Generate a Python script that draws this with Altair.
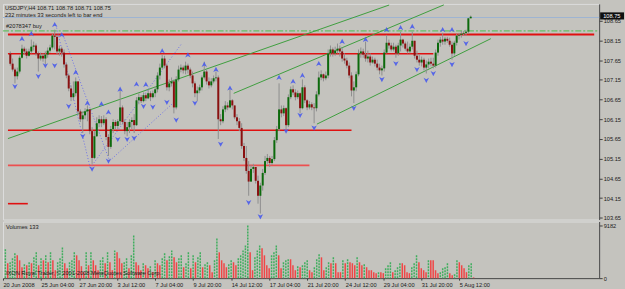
import altair as alt
import pandas as pd

# ---------------- data ----------------
FIRST_OPEN = 107.82
CLOSE = [107.56, 107.41, 107.24, 107.36, 107.71, 107.94, 107.87, 107.76, 107.87, 107.99,
         108.02, 107.82, 107.69, 107.76, 107.69, 107.79, 107.89, 107.97, 108.27, 108.24,
         107.87, 107.94, 107.84, 107.54, 107.26, 106.93, 106.71, 106.81, 107.11, 106.35,
         106.15, 106.25, 106.35, 106.40, 105.85, 105.17, 105.72, 106.05, 106.15, 106.05,
         106.15, 105.70, 105.45, 105.90, 106.08, 105.98, 106.10, 106.45, 106.08, 105.85,
         105.95, 106.08, 106.13, 106.00, 106.63, 106.71, 106.61, 106.76, 106.68, 106.81,
         106.71, 106.81, 106.91, 107.26, 107.46, 107.69, 107.51, 106.96, 107.06, 107.11,
         106.45, 107.16, 107.41, 107.46, 107.39, 107.51, 107.41, 107.26, 107.06, 106.81,
         106.88, 106.96, 107.21, 107.36, 107.11, 107.01, 107.11, 107.19, 107.21, 106.15,
         106.10, 106.40, 106.50, 106.45, 106.63, 106.50, 106.20, 106.10, 105.93, 105.47,
         105.17, 104.84, 104.57, 104.89, 104.94, 104.59, 104.21, 104.47, 104.79, 105.09,
         105.17, 105.04, 105.14, 105.62, 105.90, 106.40, 106.30, 106.43, 106.00, 106.71,
         106.91, 106.83, 106.71, 106.81, 106.43, 106.96, 106.63, 106.45, 106.53, 106.45,
         106.43, 106.78, 107.21, 107.29, 107.19, 107.26, 107.82, 107.92, 107.82, 107.89,
         107.94, 107.87, 107.69, 107.64, 107.51, 107.26, 106.88, 106.96, 107.29, 107.82,
         107.87, 107.79, 107.69, 107.74, 107.59, 107.66, 107.56, 107.46, 107.39, 107.44,
         107.84, 108.09, 108.02, 107.92, 107.99, 107.82, 108.02, 108.17, 108.07, 107.94,
         107.87, 107.99, 108.14, 107.76, 107.66, 107.59, 107.66, 107.46, 107.54, 107.61,
         107.56, 107.51, 107.84, 108.09, 108.17, 108.12, 108.19, 108.14, 108.04, 107.82,
         108.09, 108.27, 108.29, 108.32, 108.34, 108.37, 108.71, 108.75]
HIGH = [107.87, 107.69, 107.46, 107.46, 107.76, 108.04, 107.99, 107.94, 107.94, 108.17,
        108.12, 108.07, 107.87, 107.84, 107.82, 107.87, 107.97, 108.04, 108.32, 108.42,
        108.29, 108.02, 107.99, 107.92, 107.59, 107.31, 107.01, 107.11, 107.21, 107.11,
        106.40, 106.35, 106.43, 106.50, 106.40, 105.95, 105.85, 106.20, 106.25, 106.23,
        106.25, 106.20, 105.77, 105.98, 106.15, 106.13, 106.15, 106.91, 106.50, 106.15,
        106.08, 106.15, 106.20, 106.28, 106.71, 106.81, 106.76, 106.83, 106.81, 106.91,
        106.86, 106.88, 106.98, 107.34, 107.56, 107.79, 107.76, 107.56, 107.16, 107.21,
        107.16, 107.24, 107.51, 107.54, 107.51, 107.61, 107.56, 107.46, 107.36, 107.11,
        106.98, 107.03, 107.26, 107.61, 107.41, 107.21, 107.19, 107.26, 107.36, 107.26,
        106.28, 106.48, 106.61, 106.58, 106.91, 106.66, 106.50, 106.28, 106.18, 106.05,
        105.55, 105.47, 105.09, 104.99, 105.02, 104.94, 104.72, 104.54, 104.89, 105.22,
        105.27, 105.22, 105.22, 105.70, 105.98, 107.06, 106.50, 106.50, 106.45, 106.78,
        106.98, 107.01, 106.91, 106.88, 106.83, 107.16, 107.01, 106.66, 106.61, 106.58,
        106.56, 106.86, 107.36, 107.39, 107.31, 107.36, 107.92, 108.02, 107.97, 107.99,
        108.07, 108.02, 107.97, 107.82, 107.71, 107.59, 107.34, 107.11, 107.36, 107.92,
        107.97, 107.94, 108.12, 107.89, 107.82, 107.74, 107.71, 107.66, 107.56, 107.51,
        107.92, 108.29, 108.17, 108.09, 108.09, 108.04, 108.09, 108.37, 108.19, 108.12,
        108.12, 108.07, 108.37, 108.12, 107.89, 107.79, 107.74, 107.71, 107.64, 107.69,
        107.71, 107.71, 107.92, 108.17, 108.24, 108.34, 108.24, 108.24, 108.22, 108.12,
        108.14, 108.32, 108.34, 108.39, 108.39, 108.42, 108.72, 108.78]
LOW = [107.51, 107.36, 107.06, 107.16, 107.31, 107.69, 107.79, 107.69, 107.74, 107.82,
       107.89, 107.76, 107.36, 107.64, 107.61, 107.54, 107.71, 107.84, 107.92, 107.92,
       107.79, 107.76, 107.74, 107.46, 107.19, 106.86, 106.61, 106.63, 106.73, 106.28,
       106.08, 105.80, 106.15, 106.10, 105.77, 105.02, 105.14, 105.70, 105.95, 105.95,
       106.00, 105.62, 105.22, 105.40, 105.80, 105.90, 105.90, 106.00, 106.03, 105.77,
       105.72, 105.80, 105.90, 105.80, 105.98, 106.53, 106.56, 106.58, 106.61, 106.66,
       106.61, 106.68, 106.71, 106.83, 107.16, 107.41, 107.44, 106.88, 106.86, 106.98,
       106.30, 106.40, 107.11, 107.34, 107.31, 107.29, 107.31, 107.19, 106.96, 106.71,
       106.61, 106.81, 106.88, 107.16, 107.03, 106.93, 106.96, 107.06, 107.11, 105.65,
       106.00, 106.05, 106.33, 106.38, 106.43, 106.40, 106.15, 106.00, 105.85, 105.40,
       105.09, 104.77, 104.21, 104.64, 104.79, 104.52, 104.01, 103.76, 104.34, 104.74,
       105.02, 104.94, 104.99, 105.09, 105.55, 105.85, 106.20, 106.23, 105.90, 105.95,
       106.66, 106.76, 106.63, 106.66, 106.30, 106.40, 106.56, 106.38, 106.40, 106.38,
       106.05, 106.35, 106.73, 107.14, 107.11, 107.14, 107.19, 107.74, 107.74, 107.76,
       107.82, 107.74, 107.61, 107.56, 107.44, 107.19, 106.73, 106.56, 106.86, 107.24,
       107.71, 107.71, 107.61, 107.59, 107.51, 107.56, 107.49, 107.39, 107.29, 107.26,
       107.36, 107.82, 107.94, 107.87, 107.87, 107.71, 107.76, 107.87, 107.97, 107.89,
       107.82, 107.82, 107.92, 107.69, 107.59, 107.51, 107.49, 107.39, 107.31, 107.44,
       107.49, 107.44, 107.46, 107.76, 107.99, 108.04, 108.04, 108.09, 107.99, 107.66,
       107.76, 108.02, 108.17, 108.22, 108.27, 108.27, 108.32, 108.71]
VOLUME = [5020, 2600, 2770, 3460, 4330, 3980, 3110, 1900, 2420, 2250,
          2770, 2600, 3630, 4500, 2250, 3460, 3110, 3980, 2770, 4500,
          3110, 1380, 2770, 3460, 5360, 2600, 1730, 2770, 3110, 4500,
          3980, 3110, 2080, 1040, 4500, 2250, 4500, 3110, 2250, 1380,
          3110, 3630, 2600, 4500, 2770, 1380, 4840, 4500, 3460, 2600,
          2770, 3460, 1730, 3980, 7440, 2770, 2250, 1380, 2600, 2250,
          1730, 2080, 1040, 3110, 2600, 2250, 3460, 4330, 3110, 3810,
          4840, 3630, 2770, 3460, 3980, 1900, 2600, 4500, 1730, 3980,
          2770, 3630, 4500, 1900, 2420, 2770, 2250, 1040, 3110, 6920,
          4500, 3110, 2600, 1900, 2420, 3110, 2770, 2250, 3460, 3980,
          4840, 5710, 9182, 4500, 1380, 3630, 4840, 5710, 5190, 3980,
          2250, 1730, 3980, 4500, 5710, 3980, 1730, 2770, 3110, 3290,
          3290, 2250, 1380, 2080, 1900, 2250, 2770, 3110, 1380, 1040,
          1900, 3290, 4150, 3630, 1380, 1900, 2770, 2600, 3630, 2600,
          1040, 1040, 3110, 2600, 3290, 2770, 2600, 2250, 3630, 2770,
          2250, 2420, 1900, 1380, 1380, 1040, 870, 1040, 1040, 870,
          1730, 2250, 2770, 1040, 1380, 1900, 2600, 2600, 2250, 1040,
          870, 1900, 2600, 3980, 2770, 1730, 1380, 1040, 3110, 3110,
          3110, 1380, 870, 1040, 1730, 1900, 2600, 870, 520, 690,
          3110, 2770, 2250, 1730, 1040, 2250, 2600, 133]

TICK_LABELS = ["20 Jun 2008", "25 Jun 04:00", "27 Jun 20:00", "3 Jul 12:00", "7 Jul 04:00",
               "9 Jul 20:00", "14 Jul 12:00", "17 Jul 04:00", "21 Jul 20:00", "24 Jul 12:00",
               "29 Jul 04:00", "31 Jul 20:00", "5 Aug 12:00"]
PRICE_TICKS = [103.65, 104.15, 104.65, 105.15, 105.65, 106.15, 106.65, 107.15, 107.65, 108.15, 108.65]

UP_BARS = [6, 10, 20, 23, 29, 34, 40, 43, 48, 55, 59, 66, 77, 84, 89, 95, 116, 122, 126, 133,
           143, 153, 162, 168, 173, 186, 190]
UP_PRICES = [108.19, 108.32, 108.55, 108.29, 107.34, 106.56, 106.54, 106.33, 106.91, 107.04,
             107.03, 107.88, 107.78, 107.54, 107.41, 106.94, 107.21, 107.11, 107.26, 107.56,
             108.12, 108.17, 108.42, 108.47, 108.50, 108.42, 108.42]
DOWN_BARS = [3, 13, 16, 20, 26, 32, 36, 43, 47, 51, 54, 58, 62, 68, 72, 80, 91, 103, 108, 119,
             125, 131, 148, 160, 166, 175, 179, 182, 190, 196]
DOWN_PRICES = [106.98, 107.24, 107.51, 107.51, 106.48, 105.72, 104.89, 105.09, 105.64, 105.64,
               105.67, 106.48, 106.46, 106.58, 106.13, 106.56, 105.52, 104.04, 103.68, 105.85,
               106.25, 105.93, 106.43, 107.16, 107.56, 107.41, 107.14, 107.31, 107.54, 108.07]

RED_LEVELS = [108.30, 107.81, 105.87, 104.98, 104.01]
RED_ENDS = [250.84, 182, 147, 129, 8.5]
RED_WIDTHS = [2, 1.6, 1.6, 1.6, 1.6]
RED_COLORS = ["#E01010", "#E01010", "#E01010", "#EC5050", "#E01010"]
ORDER_LEVEL = 108.39
BID_LEVEL = 108.73
LAST_PRICE = 108.75

TREND_ID = ["a", "a", "b", "b", "c", "c"]
TREND_BAR = [0, 163.1, 96.6, 186.5, 132.2, 206.6]
TREND_PRICE = [105.66, 109.046, 106.807, 109.05, 106.027, 108.193]
DOT_ID = ["d1", "d1", "d2", "d2", "d3", "d3", "d4", "d4"]
DOT_BAR = [20.5, 35.2, 23.5, 43.5, 35.2, 74.0, 43.5, 71.5]
DOT_PRICE = [108.546, 104.918, 108.294, 105.095, 104.918, 108.042, 105.095, 106.606]

HEADER = "USDJPY,H4  108.71 108.78 108.71 108.75"
TIMER = "232 minutes 33 seconds left to bar end"
ORDER_TEXT = "#2078347 buy"
VOL_TEXT = "Volumes 133"
COPYRIGHT = "IXON Royal Trader, © 2001-2008 MetaQuotes Software Corp."

# ---------------- tables ----------------
n = len(CLOSE)
opens = [FIRST_OPEN] + CLOSE[:-1]
highs = [max(h, o, c) for h, o, c in zip(HIGH, opens, CLOSE)]
lows = [min(l, o, c) for l, o, c in zip(LOW, opens, CLOSE)]
candles = pd.DataFrame({
    "bar": list(range(1, n + 1)), "open": opens, "close": CLOSE, "high": highs, "low": lows,
    "dir": ["up" if c >= o else "down" for o, c in zip(opens, CLOSE)],
})
vol = pd.DataFrame({
    "bar": list(range(1, n + 1)), "v": VOLUME, "z": [0] * n,
    "dir": ["up"] + ["up" if VOLUME[i] > VOLUME[i - 1] else "down" for i in range(1, n)],
})

X_DOMAIN = [0, 250.84]
P_DOMAIN = [103.608, 109.075]
V_DOMAIN = [0, 9874]
BG = "#C4C3BE"
FONT = "Liberation Sans"
FS = 5.7
TXT = "#1A1A1A"

xs = alt.Scale(domain=X_DOMAIN, nice=False, zero=False)
ps = alt.Scale(domain=P_DOMAIN, nice=False, zero=False)
vs = alt.Scale(domain=V_DOMAIN, nice=False, zero=False)

PAX = alt.Axis(orient="right", values=PRICE_TICKS, format=".2f", title=None, grid=False,
               labelFontSize=FS, labelColor=TXT, labelFont=FONT, tickSize=3, tickColor="#404040",
               labelPadding=1, domainColor="#404040", labelOverlap=False, labelFlush=False)


def PX(field):
    return alt.X(field, scale=xs, axis=None)


def PY(field):
    return alt.Y(field, scale=ps, axis=PAX)


def label(text, x, y):
    return alt.Chart(pd.DataFrame({"t": [text]})).mark_text(
        align="left", baseline="middle", color=TXT, fontSize=FS, font=FONT).encode(
        x=alt.value(x), y=alt.value(y), text="t:N")


wicks = alt.Chart(candles).mark_rule(color="#8E8E8E", strokeWidth=1).encode(
    x=PX("bar:Q"), y=PY("low:Q"), y2="high:Q")
bodies = alt.Chart(candles).mark_bar(size=2).encode(
    x=PX("bar:Q"), y=PY("open:Q"), y2="close:Q",
    color=alt.Color("dir:N", scale=alt.Scale(domain=["up", "down"], range=["#0C6A0C", "#8A1010"]), legend=None),
)

red_df = pd.DataFrame({"p": RED_LEVELS, "x1": [0] * len(RED_LEVELS), "x2": RED_ENDS,
                       "w": RED_WIDTHS, "c": RED_COLORS})
red_lines = alt.Chart(red_df).mark_rule().encode(
    x=PX("x1:Q"), x2="x2:Q", y=PY("p:Q"),
    strokeWidth=alt.StrokeWidth("w:Q", scale=None),
    color=alt.Color("c:N", scale=None),
)
bid_line = alt.Chart(pd.DataFrame({"p": [BID_LEVEL]})).mark_rule(color="#9DB3D2", strokeWidth=1).encode(
    x=alt.value(0), x2=alt.value(600), y=PY("p:Q"))
order_line = alt.Chart(pd.DataFrame({"p": [ORDER_LEVEL]})).mark_rule(
    color="#4DBB4D", strokeWidth=1, strokeDash=[6, 2, 2, 2]).encode(
    x=alt.value(0), x2=alt.value(600), y=PY("p:Q"))

trend = alt.Chart(pd.DataFrame({"id": TREND_ID, "bar": TREND_BAR, "p": TREND_PRICE})).mark_line(
    color="#3E9E3E", strokeWidth=1, clip=True).encode(x=PX("bar:Q"), y=PY("p:Q"), detail="id:N")
dots = alt.Chart(pd.DataFrame({"id": DOT_ID, "bar": DOT_BAR, "p": DOT_PRICE})).mark_line(
    color="#6E72E6", strokeWidth=1, strokeDash=[1, 2], clip=True).encode(
    x=PX("bar:Q"), y=PY("p:Q"), detail="id:N")

UP_SHAPE = "M0,-1L1,0.9L0,0.4L-1,0.9Z"
DOWN_SHAPE = "M0,1L1,-0.9L0,-0.4L-1,-0.9Z"
up_arrows = alt.Chart(pd.DataFrame({"bar": UP_BARS, "p": UP_PRICES})).mark_point(
    shape=UP_SHAPE, filled=True, size=30, color="#4A5CEB", opacity=0.9, clip=True).encode(
    x=PX("bar:Q"), y=PY("p:Q"))
down_arrows = alt.Chart(pd.DataFrame({"bar": DOWN_BARS, "p": DOWN_PRICES})).mark_point(
    shape=DOWN_SHAPE, filled=True, size=30, color="#4A5CEB", opacity=0.9, clip=True).encode(
    x=PX("bar:Q"), y=PY("p:Q"))

last_df = pd.DataFrame({"p": [LAST_PRICE], "hi": [LAST_PRICE + 0.11], "lo": [LAST_PRICE - 0.07],
                        "t": [f"{LAST_PRICE:.2f}"]})
last_box = alt.Chart(last_df).mark_rect(color="#101010").encode(
    x=alt.value(601), x2=alt.value(625), y=PY("hi:Q"), y2="lo:Q")
last_txt = alt.Chart(last_df).mark_text(align="left", baseline="middle", color="white",
                                        fontSize=FS, font=FONT, dy=-0.5).encode(
    x=alt.value(604), y=PY("p:Q"), text="t:N")

main = alt.layer(order_line, red_lines, bid_line, trend, dots, wicks, bodies, up_arrows, down_arrows,
                 last_box, last_txt,
                 label(HEADER, 2, 4.5), label(TIMER, 2, 11), label(ORDER_TEXT, 3, 22)
                 ).properties(width=600, height=217)

# ---------------- volume panel ----------------
label_expr = "[" + ",".join(f"'{t}'" for t in TICK_LABELS) + "][round(datum.value/16)]"
XAX = alt.Axis(values=[16 * k for k in range(len(TICK_LABELS))], labelExpr=label_expr, title=None,
               grid=False, labelFontSize=FS, labelColor=TXT, labelFont=FONT, labelAlign="left",
               labelPadding=1, tickSize=2, tickColor="#404040", domainColor="#404040",
               labelOverlap=False, labelFlush=False, labelBound=False)
VAX = alt.Axis(orient="right", values=[0, 9182], title=None, grid=False, labelFontSize=FS,
               labelColor=TXT, labelFont=FONT, tickSize=3, tickColor="#404040", labelPadding=1,
               domainColor="#404040", labelOverlap=False, labelFlush=False, format="d")

vol_up = alt.Chart(vol).transform_filter(alt.datum.dir == "up").mark_rule(
    color="#3FAE5E", strokeWidth=1.5, strokeDash=[2, 1]).encode(
    x=alt.X("bar:Q", scale=xs, axis=XAX),
    y=alt.Y("v:Q", scale=vs, axis=VAX), y2="z:Q")
vol_dn = alt.Chart(vol).transform_filter(alt.datum.dir == "down").mark_rule(
    color="#F04646", strokeWidth=1.5).encode(
    x=alt.X("bar:Q", scale=xs, axis=XAX),
    y=alt.Y("v:Q", scale=vs, axis=VAX), y2="z:Q")

volume = alt.layer(vol_dn, vol_up, label(VOL_TEXT, 3, 6), label(COPYRIGHT, 3, 52)
                   ).properties(width=600, height=57)

chart = alt.vconcat(main, volume, spacing=2, bounds="flush").properties(
    padding={"left": 2, "top": 2, "right": 0, "bottom": 0},
    background=BG,
).configure_view(stroke="#4A4A4A", strokeWidth=1).configure(font=FONT)

chart.save("out.html", embed_options={"renderer": "svg", "actions": False})
